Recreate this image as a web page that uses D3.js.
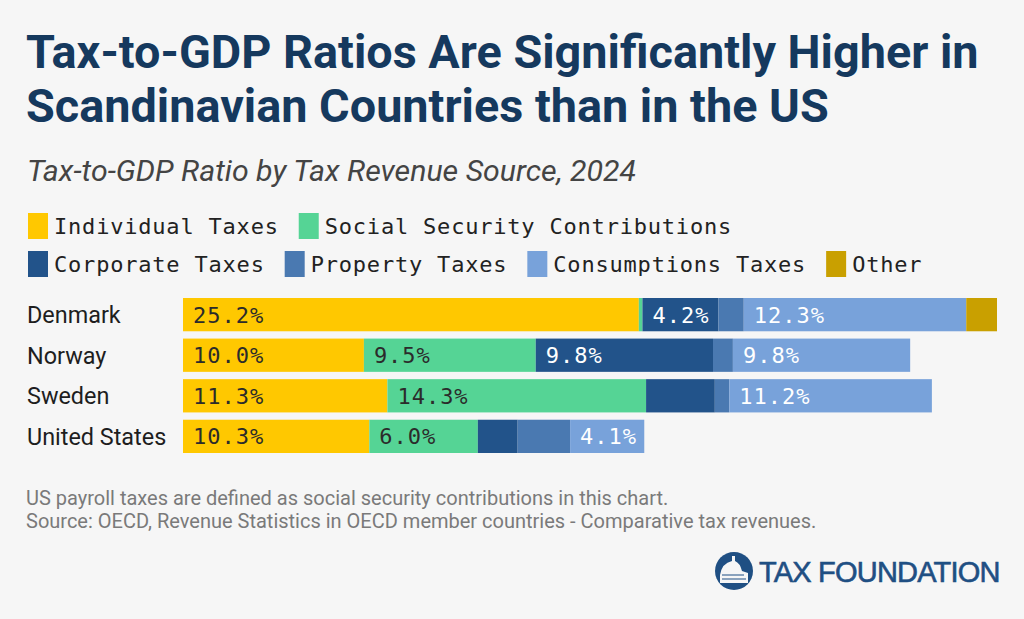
<!DOCTYPE html>
<html>
<head>
<meta charset="utf-8">
<script src="https://cdn.jsdelivr.net/npm/d3@7"></script>
<style>
  html, body { margin: 0; padding: 0; background: #f6f6f6; }
  svg { display: block; }
</style>
</head>
<body>
<script>
var
  width   = 1024,
  height  = 619,
  mono    = '"DejaVu Sans Mono", "Liberation Mono", monospace',
  sans    = 'Roboto, "Noto Sans", sans-serif';

// data (% of GDP)
var countries   = ['Denmark', 'Norway', 'Sweden', 'United States'];
var seriesNames = ['Individual Taxes', 'Social Security Contributions', 'Corporate Taxes',
                   'Property Taxes', 'Consumptions Taxes', 'Other'];
var individual  = [25.2, 10.0, 11.3, 10.3];
var social      = [0.2, 9.5, 14.3, 6.0];
var corporate   = [4.2, 9.8, 3.8, 2.2];
var property    = [1.4, 1.1, 0.8, 2.9];
var consumption = [12.3, 9.8, 11.2, 4.1];
var other       = [1.7, 0, 0, 0];

var colors     = ['#ffc800', '#55d495', '#22538a', '#4a79b1', '#78a2da', '#c9a000'];
var labelColor = ['#2b2b2b', '#2b2b2b', '#ffffff', '#ffffff', '#ffffff', '#2b2b2b'];

var rows = countries.map(function(c, i) {
  return { country: c, values: [individual[i], social[i], corporate[i], property[i], consumption[i], other[i]] };
});

var svg = d3.select('body')
  .append('svg')
  .attr('width', width)
  .attr('height', height)
  .attr('viewBox', [0, 0, width, height].join(' '));

svg.append('rect').attr('width', width).attr('height', height).attr('fill', '#f6f6f6');

// title + subtitle
var title = svg.append('text')
  .attr('font-family', sans)
  .attr('font-weight', 700)
  .attr('font-size', 46.8)
  .attr('fill', '#15395e');
title.append('tspan').attr('x', 26).attr('y', 68).text('Tax-to-GDP Ratios Are Significantly Higher in');
title.append('tspan').attr('x', 26).attr('y', 122).text('Scandinavian Countries than in the US');

svg.append('text')
  .attr('x', 27)
  .attr('y', 181)
  .attr('font-family', sans)
  .attr('font-style', 'italic')
  .attr('font-size', 30.3)
  .attr('fill', '#444')
  .text('Tax-to-GDP Ratio by Tax Revenue Source, 2024');

// legend, two rows laid out left to right
var legendRows = [[0, 1], [2, 3, 4, 5]];
legendRows.forEach(function(r, ri) {
  var x = 28, cy = 226 + ri * 38;
  r.forEach(function(k) {
    svg.append('rect')
      .attr('x', x).attr('y', cy - 13)
      .attr('width', 20).attr('height', 26)
      .attr('fill', colors[k]);
    var t = svg.append('text')
      .attr('x', x + 26).attr('y', cy)
      .attr('dy', '0.35em')
      .attr('font-family', mono)
      .attr('font-size', 22)
      .attr('letter-spacing', 0.8)
      .attr('fill', '#222')
      .text(seriesNames[k]);
    x += 26 + t.node().getComputedTextLength() + 20;
  });
});

// scales
var x = d3.scaleLinear().domain([0, 45]).range([183, 997]);
var y = d3.scaleBand().domain(countries).range([298, 453]).paddingInner(0.18);

var stack = rows.map(function(r) {
  var acc = 0;
  return r.values.map(function(v, k) {
    var seg = { country: r.country, k: k, v: v, x0: acc, x1: acc + v };
    acc += v;
    return seg;
  });
});

var g = svg.append('g');

var rowG = g.selectAll('.row')
  .data(stack)
  .enter()
  .append('g')
  .attr('class', 'row');

rowG.selectAll('rect')
  .data(function(d) { return d.filter(function(s) { return s.v > 0; }); })
  .enter()
  .append('rect')
  .attr('x', function(s) { return x(s.x0); })
  .attr('y', function(s) { return y(s.country); })
  .attr('width', function(s) { return x(s.x1) - x(s.x0); })
  .attr('height', y.bandwidth())
  .attr('fill', function(s) { return colors[s.k]; });

rowG.selectAll('text')
  .data(function(d) { return d.filter(function(s) { return s.v >= 4; }); })
  .enter()
  .append('text')
  .attr('x', function(s) { return x(s.x0) + 10; })
  .attr('y', function(s) { return y(s.country) + y.bandwidth() / 2; })
  .attr('dy', '0.36em')
  .attr('font-family', mono)
  .attr('font-size', 22)
  .attr('letter-spacing', 1)
  .attr('fill', function(s) { return labelColor[s.k]; })
  .text(function(s) { return s.v.toFixed(1) + '%'; });

// country labels
g.selectAll('.country')
  .data(countries)
  .enter()
  .append('text')
  .attr('class', 'country')
  .attr('x', 27)
  .attr('y', function(c) { return y(c) + y.bandwidth() / 2; })
  .attr('dy', '0.36em')
  .attr('font-family', sans)
  .attr('font-size', 23.4)
  .attr('fill', '#1e1e1e')
  .text(function(c) { return c; });

// notes
var notes = ['US payroll taxes are defined as social security contributions in this chart.',
             'Source: OECD, Revenue Statistics in OECD member countries - Comparative tax revenues.'];
svg.selectAll('.note')
  .data(notes)
  .enter()
  .append('text')
  .attr('class', 'note')
  .attr('x', 26)
  .attr('y', function(d, i) { return 505 + i * 23; })
  .attr('font-family', sans)
  .attr('font-size', 20)
  .attr('fill', '#7a7a7a')
  .text(function(d) { return d; });

// logo
var logo = svg.append('g').attr('transform', 'translate(734,571)');
logo.append('circle').attr('r', 19).attr('fill', '#1f4f83');
logo.append('path')
  .attr('d', 'M-14,12 L-14,4 Q-12,-8 -2,-10 L-2,-15 L1,-15 L1,-10 Q6,-8 8,0 L14,2 L14,12 Z')
  .attr('fill', '#f6f6f6');
logo.append('path')
  .attr('d', 'M-12,4 L10,4 M-12,8 L12,8')
  .attr('stroke', '#1f4f83').attr('stroke-width', 1.2);
svg.append('text')
  .attr('x', 759)
  .attr('y', 582)
  .attr('font-family', '"Liberation Sans", Arial, sans-serif')
  .attr('font-size', 29)
  .attr('letter-spacing', -0.8)
  .attr('fill', '#1f4f83')
  .attr('stroke', '#1f4f83')
  .attr('stroke-width', 0.6)
  .text('TAX FOUNDATION');
</script>
</body>
</html>
